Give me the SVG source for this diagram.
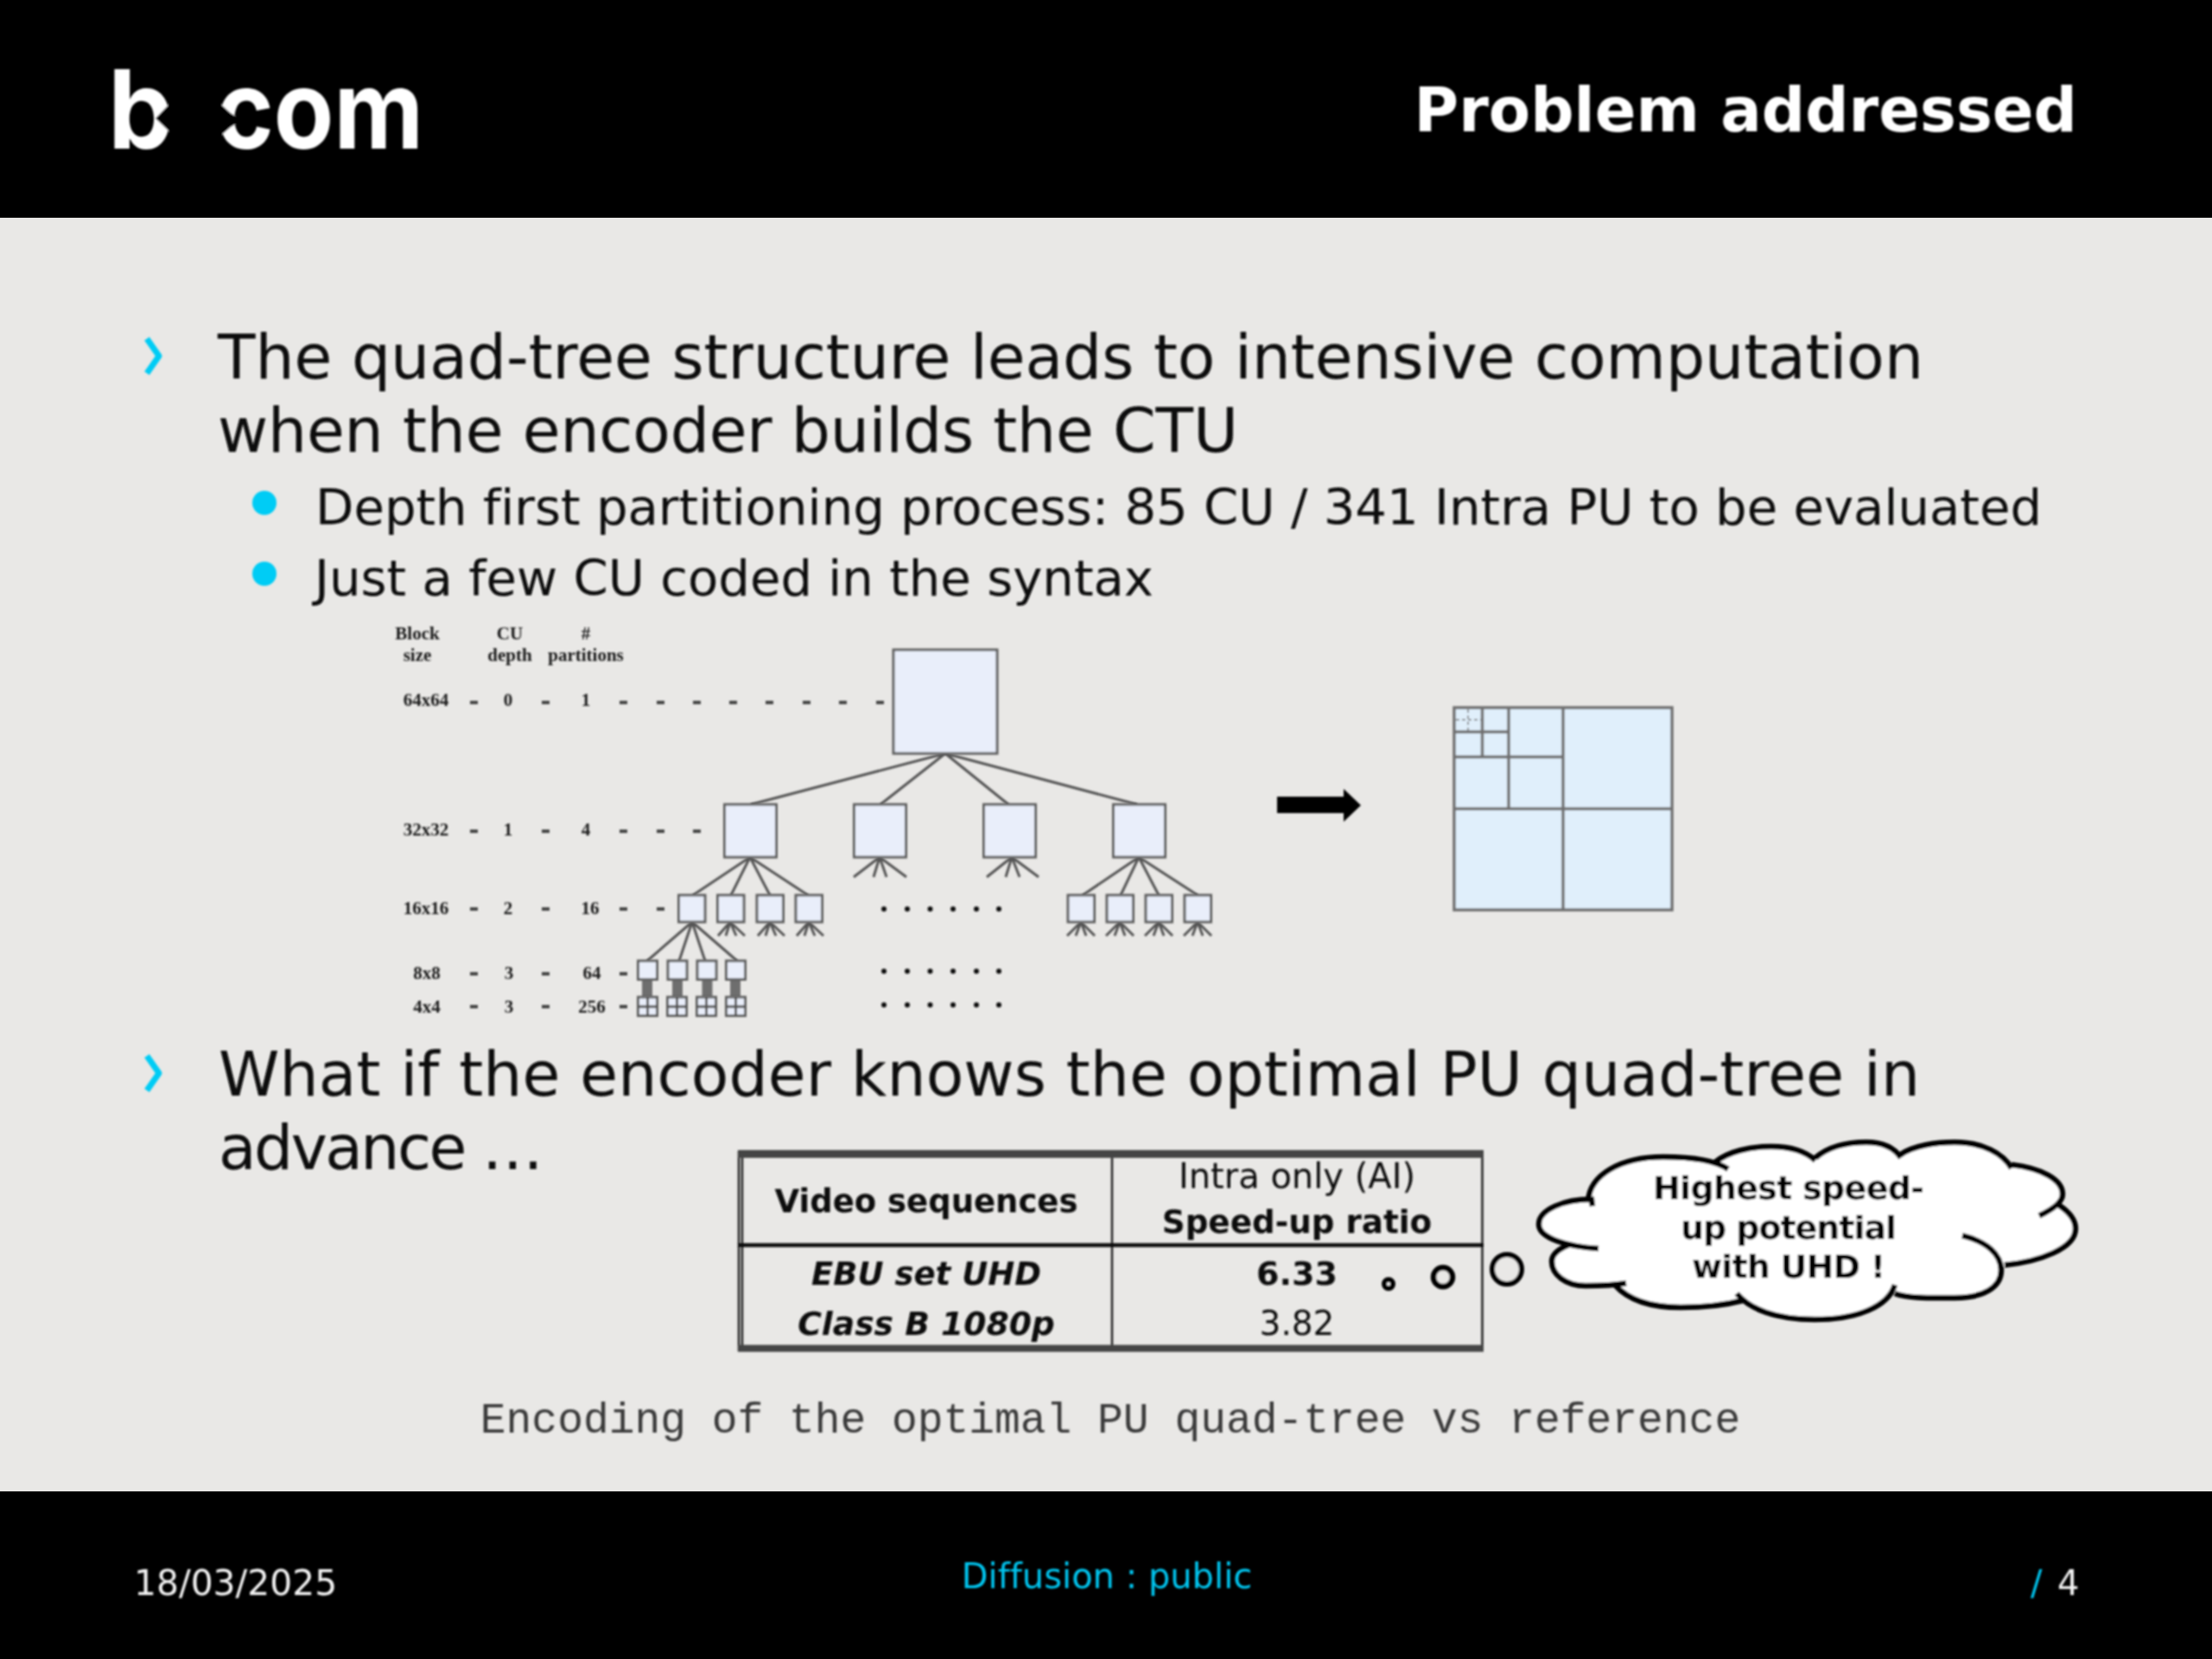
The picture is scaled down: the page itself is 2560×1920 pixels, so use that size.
<svg xmlns="http://www.w3.org/2000/svg" width="2560" height="1920" viewBox="0 0 2560 1920">
<defs>
<filter id="soft" x="-2%" y="-2%" width="104%" height="104%"><feGaussianBlur stdDeviation="0.8"/></filter>
</defs>
<style>
.d{font-family:"DejaVu Sans",Verdana,sans-serif;font-variant-ligatures:none}
.l1{font-size:71.2px;fill:#0a0a0a}
.l2{font-size:57.7px;fill:#0a0a0a}
.s{font-family:"Liberation Serif","Times New Roman",serif;font-weight:bold;font-size:21px;fill:#1c1c1c;text-anchor:middle}
.b{fill:#e9eefa;stroke:#606060;stroke-width:3}
.q{fill:none;stroke:#707070;stroke-width:3.5}
.e{stroke:#555;stroke-width:3;fill:none}
.t{fill:#111;text-anchor:middle}
.dash{fill:#444}
.dot{fill:#111}
.c{font-weight:bold;font-size:38px;fill:#000;text-anchor:middle}
.cl{fill:none;stroke:#000;stroke-width:6.5;stroke-linecap:butt}
</style>
<rect id="bg" width="2560" height="1920" fill="#e9e8e6"/>
<rect id="header" width="2560" height="252" fill="#000"/>
<rect id="footer" y="1726" width="2560" height="194" fill="#000"/>
<g id="logo" filter="url(#soft)">
<text x="125" y="172" font-family="Inter,sans-serif" font-weight="700" font-size="126" fill="#fff" textLength="76" lengthAdjust="spacingAndGlyphs">b</text>
<polygon points="180,137 202,114 204,160" fill="#000"/>
<text x="250" y="172" font-family="Inter,sans-serif" font-weight="700" font-size="126" fill="#fff" textLength="240" lengthAdjust="spacingAndGlyphs">com</text>
<polygon points="246,112 267,131 280,139 267,147 246,165" fill="#000"/>
</g>
<g id="texts" filter="url(#soft)">
<text id="title" class="d" x="2404" y="152" text-anchor="end" font-weight="bold" font-size="70.400" fill="#fff">Problem addressed</text>
<g id="body">
<path d="M170,392 L184,412 L170,432" fill="none" stroke="#00ccf5" stroke-width="7" stroke-linejoin="round"/>
<text class="d l1" x="252" y="438" textLength="1974">The quad-tree structure leads to intensive computation</text>
<text class="d l1" x="252" y="523" textLength="1181">when the encoder builds the CTU</text>
<circle cx="306" cy="582" r="14" fill="#00ccf5"/>
<text class="d l2" x="365" y="607" textLength="1998">Depth first partitioning process: 85 CU / 341 Intra PU to be evaluated</text>
<circle cx="306" cy="664" r="14" fill="#00ccf5"/>
<text class="d l2" x="364" y="689" textLength="971">Just a few CU coded in the syntax</text>
<path d="M170,1222 L184,1242 L170,1262" fill="none" stroke="#00ccf5" stroke-width="7" stroke-linejoin="round"/>
<text class="d l1" x="253" y="1268" textLength="1969">What if the encoder knows the optimal PU quad-tree in</text>
<text class="d l1" x="253" y="1353" textLength="376">advance …</text>
</g>
</g>
<g id="connectors" filter="url(#soft)">
<path class="e" d="M1094,872L869,931M1094,872L1019,931M1094,872L1167,931M1094,872L1316,931"/>
<path class="e" d="M868,992L802,1036M868,992L846,1036M868,992L891,1036M868,992L935,1036"/>
<path class="e" d="M1018,992L988,1015M1018,992L1011,1015M1018,992L1026,1015M1018,992L1049,1015"/>
<path class="e" d="M1171,992L1142,1015M1171,992L1164,1015M1171,992L1180,1015M1171,992L1202,1015"/>
<path class="e" d="M1318,992L1253,1036M1318,992L1297,1036M1318,992L1341,1036M1318,992L1386,1036"/>
<path class="e" d="M845,1067L831,1083M845,1067L840,1083M845,1067L852,1083M845,1067L862,1083"/>
<path class="e" d="M891,1067L877,1083M891,1067L886,1083M891,1067L898,1083M891,1067L908,1083"/>
<path class="e" d="M936,1067L922,1083M936,1067L931,1083M936,1067L943,1083M936,1067L953,1083"/>
<path class="e" d="M1251,1067L1235,1083M1251,1067L1245,1083M1251,1067L1257,1083M1251,1067L1267,1083"/>
<path class="e" d="M1296,1067L1280,1083M1296,1067L1290,1083M1296,1067L1302,1083M1296,1067L1312,1083"/>
<path class="e" d="M1341,1067L1325,1083M1341,1067L1335,1083M1341,1067L1347,1083M1341,1067L1357,1083"/>
<path class="e" d="M1386,1067L1370,1083M1386,1067L1380,1083M1386,1067L1392,1083M1386,1067L1402,1083"/>
<path class="e" d="M801,1067L749,1112M801,1067L786,1112M801,1067L816,1112M801,1067L853,1112"/>
<path d="M749,1133V1154M784,1133V1154M818.500,1133V1154M851,1133V1154" stroke="#6e6e6e" stroke-width="12" fill="none"/>
</g>
<g id="tree" filter="url(#soft)">
<rect id="n64" class="b" x="1034" y="752" width="120" height="120"/>
<rect id="n32a" class="b" x="838.500" y="931" width="60" height="61"/>
<rect id="n32b" class="b" x="988.500" y="931" width="60" height="61"/>
<rect id="n32c" class="b" x="1138.500" y="931" width="60" height="61"/>
<rect id="n32d" class="b" x="1288.500" y="931" width="60" height="61"/>
<g id="n16">
<rect class="b" x="785.500" y="1036" width="30.500" height="31"/><rect class="b" x="830.500" y="1036" width="30.500" height="31"/><rect class="b" x="876" y="1036" width="30.500" height="31"/><rect class="b" x="921" y="1036" width="30.500" height="31"/>
<rect class="b" x="1236" y="1036" width="30.500" height="31"/><rect class="b" x="1281" y="1036" width="30.500" height="31"/><rect class="b" x="1326" y="1036" width="30.500" height="31"/><rect class="b" x="1371" y="1036" width="30.500" height="31"/>
</g>
<g id="n8">
<rect class="b" x="738.500" y="1112" width="22" height="21.500"/><rect class="b" x="773" y="1112" width="22" height="21.500"/><rect class="b" x="807" y="1112" width="22" height="21.500"/><rect class="b" x="840.500" y="1112" width="22" height="21.500"/>
</g>
<g id="n4">
<rect class="b" x="738.500" y="1154" width="22" height="21.500"/><path class="e" d="M749.500,1154V1175.500M738.500,1165H760.500"/>
<rect class="b" x="772.500" y="1154" width="22" height="21.500"/><path class="e" d="M783.500,1154V1175.500M772.500,1165H794.500"/>
<rect class="b" x="806.500" y="1154" width="22" height="21.500"/><path class="e" d="M817.500,1154V1175.500M806.500,1165H828.500"/>
<rect class="b" x="840.500" y="1154" width="22" height="21.500"/><path class="e" d="M851.500,1154V1175.500M840.500,1165H862.500"/>
</g>
<text class="s" x="483" y="740">Block</text><text class="s" x="483" y="765">size</text>
<text class="s" x="590" y="740">CU</text><text class="s" x="590" y="765">depth</text>
<text class="s" x="678" y="740">#</text><text class="s" x="678" y="765">partitions</text>
<text class="s" x="493" y="817">64x64</text><text class="s" x="588" y="817">0</text><text class="s" x="678" y="817">1</text>
<text class="s" x="493" y="967">32x32</text><text class="s" x="588" y="967">1</text><text class="s" x="678" y="967">4</text>
<text class="s" x="493" y="1058">16x16</text><text class="s" x="588" y="1058">2</text><text class="s" x="683" y="1058">16</text>
<text class="s" x="494" y="1133">8x8</text><text class="s" x="589" y="1133">3</text><text class="s" x="685" y="1133">64</text>
<text class="s" x="494" y="1172">4x4</text><text class="s" x="589" y="1172">3</text><text class="s" x="685" y="1172">256</text>
<g class="dash">
<rect x="544" y="811" width="9" height="4"/><rect x="627" y="811" width="9" height="4"/><rect x="717" y="811" width="9" height="4"/><rect x="760" y="811" width="9" height="4"/><rect x="802" y="811" width="9" height="4"/><rect x="844" y="811" width="9" height="4"/><rect x="886" y="811" width="9" height="4"/><rect x="929" y="811" width="9" height="4"/><rect x="971" y="811" width="9" height="4"/><rect x="1014" y="811" width="9" height="4"/>
<rect x="544" y="960" width="9" height="4"/><rect x="627" y="960" width="9" height="4"/><rect x="717" y="960" width="9" height="4"/><rect x="760" y="960" width="9" height="4"/><rect x="802" y="960" width="9" height="4"/>
<rect x="544" y="1050" width="9" height="4"/><rect x="627" y="1050" width="9" height="4"/><rect x="717" y="1050" width="9" height="4"/><rect x="760" y="1050" width="9" height="4"/>
<rect x="544" y="1125" width="9" height="4"/><rect x="627" y="1125" width="9" height="4"/><rect x="717" y="1125" width="9" height="4"/>
<rect x="544" y="1163" width="9" height="4"/><rect x="627" y="1163" width="9" height="4"/><rect x="717" y="1163" width="9" height="4"/>
</g>
<g class="dot">
<circle cx="1023" cy="1052" r="3"/><circle cx="1050" cy="1052" r="3"/><circle cx="1076.500" cy="1052" r="3"/><circle cx="1103" cy="1052" r="3"/><circle cx="1130" cy="1052" r="3"/><circle cx="1156" cy="1052" r="3"/>
<circle cx="1023" cy="1124" r="3"/><circle cx="1050" cy="1124" r="3"/><circle cx="1076.500" cy="1124" r="3"/><circle cx="1103" cy="1124" r="3"/><circle cx="1130" cy="1124" r="3"/><circle cx="1156" cy="1124" r="3"/>
<circle cx="1023" cy="1163" r="3"/><circle cx="1050" cy="1163" r="3"/><circle cx="1076.500" cy="1163" r="3"/><circle cx="1103" cy="1163" r="3"/><circle cx="1130" cy="1163" r="3"/><circle cx="1156" cy="1163" r="3"/>
</g>
<polygon id="arrow" points="1478,922 1555,922 1555,913 1575,932 1555,951 1555,941 1478,941" fill="#000"/>
<g id="quad">
<rect x="1683" y="819" width="252" height="234" fill="#e0effb"/>
<path class="q" d="M1683,819H1935V1053H1683ZM1809,819V1053M1683,936H1935M1746,819V936M1683,876H1809M1715.500,819V876M1683,847H1746"/>
<path d="M1699,821V846M1685,833H1714" stroke="#707070" stroke-width="1.500" stroke-dasharray="4 3" fill="none"/>
</g>
</g>
<g id="table" filter="url(#soft)">
<path stroke="#222" stroke-width="2.500" fill="none" d="M855,1332V1564M859,1332V1564M1287,1332V1564M1715.500,1332V1564"/>
<path d="M854,1335.500H1717" stroke="#444" stroke-width="9"/>
<path d="M854,1560.500H1717" stroke="#444" stroke-width="8"/>
<path stroke="#111" stroke-width="4.500" fill="none" d="M854,1441H1717"/>
<text class="d t" x="1072" y="1403" font-size="37" font-weight="bold">Video sequences</text>
<text class="d t" x="1501" y="1375" font-size="40">Intra only (AI)</text>
<text class="d t" x="1501" y="1427" font-size="37.300" font-weight="bold">Speed-up ratio</text>
<text class="d t" x="1072" y="1487" font-size="37" font-weight="bold" font-style="italic">EBU set UHD</text>
<text class="d t" x="1501" y="1487" font-size="38" font-weight="bold">6.33</text>
<text class="d t" x="1072" y="1545" font-size="37.700" font-weight="bold" font-style="italic">Class B 1080p</text>
<text class="d t" x="1501" y="1545" font-size="39">3.82</text>
</g>
<g id="thought" filter="url(#soft)">
<circle cx="1607" cy="1486" r="5" fill="#fff" stroke="#000" stroke-width="6"/>
<circle cx="1670" cy="1478" r="11" fill="#e9e8e6" stroke="#000" stroke-width="6.500"/>
<circle cx="1744" cy="1469" r="17" fill="#e9e8e6" stroke="#000" stroke-width="6"/>
<path fill="#fff" d="M1838,1390 C1840,1360 1875,1339 1925,1339 C1960,1339 1985,1343 2000,1353 L1985,1345 C2000,1333 2025,1327 2050,1327 C2075,1327 2090,1333 2101,1343 L2101,1340 C2115,1328 2135,1322 2160,1322 C2180,1322 2192,1328 2200,1340 L2200,1336 C2215,1326 2240,1322 2262,1322 C2295,1322 2318,1335 2328,1352 L2328,1348 C2362,1352 2387,1365 2387,1382 L2383,1395 C2395,1403 2402,1412 2402,1422 C2402,1445 2360,1460 2320,1464 L2316,1470 C2316,1490 2295,1502 2262,1502 C2235,1502 2210,1503 2193,1497 L2193,1487 C2185,1512 2150,1527 2100,1527 C2055,1527 2025,1515 2010,1497 L2017,1505 C1990,1512 1965,1513 1945,1513 C1910,1513 1885,1505 1869,1487 L1882,1485 C1865,1488 1850,1488 1835,1488 C1812,1488 1796,1475 1796,1460 C1796,1452 1803,1446 1815,1441 L1850,1445 C1815,1443 1781,1433 1781,1417 C1781,1400 1810,1388 1842,1388 Z"/>
<path class="cl" d="M1850,1445 C1815,1443 1781,1433 1781,1417 C1781,1400 1810,1388 1842,1388 L1843,1396"/>
<path class="cl" d="M1838,1390 C1840,1360 1875,1339 1925,1339 C1960,1339 1985,1343 2000,1353"/>
<path class="cl" d="M1985,1345 C2000,1333 2025,1327 2050,1327 C2075,1327 2090,1333 2101,1343"/>
<path class="cl" d="M2101,1340 C2115,1328 2135,1322 2160,1322 C2180,1322 2192,1328 2200,1340"/>
<path class="cl" d="M2200,1336 C2215,1326 2240,1322 2262,1322 C2295,1322 2318,1335 2328,1352"/>
<path class="cl" d="M2328,1348 C2362,1352 2387,1365 2387,1382 C2387,1392 2375,1400 2360,1407"/>
<path class="cl" d="M2383,1395 C2395,1403 2402,1412 2402,1422 C2402,1445 2360,1460 2320,1464"/>
<path class="cl" d="M2271,1430 C2300,1437 2316,1452 2316,1470 C2316,1490 2295,1502 2262,1502 C2235,1502 2210,1503 2193,1497"/>
<path class="cl" d="M2193,1487 C2185,1512 2150,1527 2100,1527 C2055,1527 2025,1515 2010,1497"/>
<path class="cl" d="M2017,1505 C1990,1512 1965,1513 1945,1513 C1910,1513 1885,1505 1869,1487"/>
<path class="cl" d="M1882,1485 C1865,1488 1850,1488 1835,1488 C1812,1488 1796,1475 1796,1460 C1796,1452 1803,1446 1815,1441"/>
<text class="d c" x="2070" y="1388" textLength="314">Highest speed-</text>
<text class="d c" x="2070" y="1434" textLength="250">up potential</text>
<text class="d c" x="2070" y="1479" textLength="224">with UHD !</text>
</g>
<text id="caption" x="1285" y="1657.500" text-anchor="middle" font-family="Liberation Mono,monospace" font-size="49.600" fill="#3a3a3a" filter="url(#soft)">Encoding of the optimal PU quad-tree vs reference</text>
<g id="foot" filter="url(#soft)">
<text class="d" x="155" y="1846" font-size="40.800" fill="#f2f2f2">18/03/2025</text>
<text class="d" x="1281" y="1838" text-anchor="middle" font-size="40" fill="#00c4ee">Diffusion : public</text>
<text class="d" x="2350" y="1846" font-size="40" fill="#00c4ee">/</text>
<text class="d" x="2381" y="1846" font-size="40" fill="#f2f2f2">4</text>
</g>
</svg>
